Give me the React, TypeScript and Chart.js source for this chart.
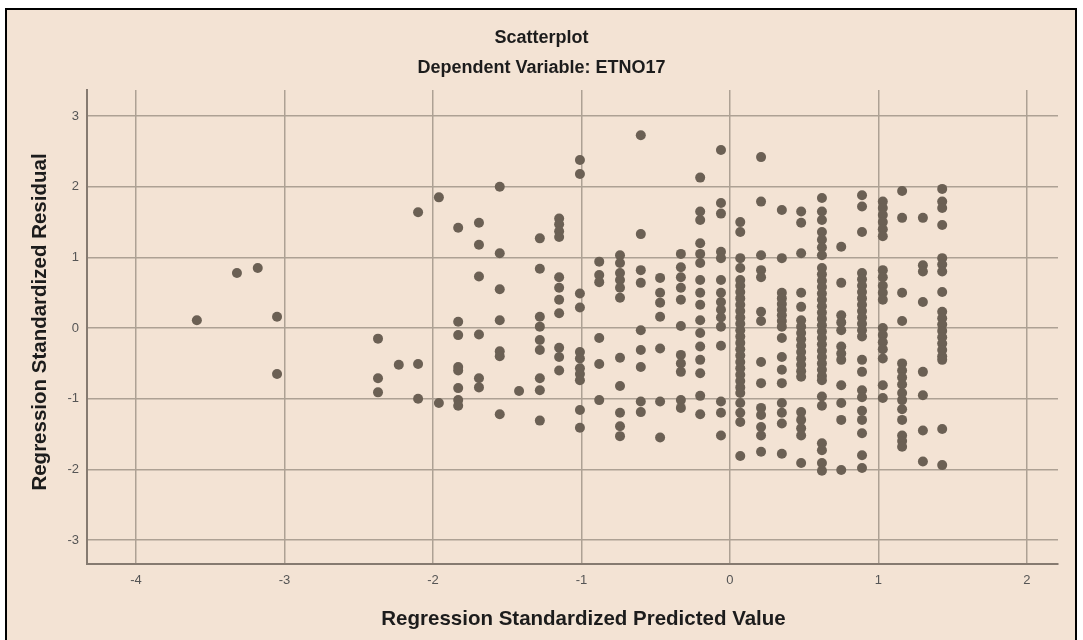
import React, { useEffect, useRef } from 'react';
import { Chart, registerables } from 'chart.js';

Chart.register(...registerables);

const TITLE = 'Scatterplot';
const SUBTITLE = 'Dependent Variable: ETNO17';
const X_LABEL = 'Regression Standardized Predicted Value';
const Y_LABEL = 'Regression Standardized Residual';

const X_TICKS = [-4, -3, -2, -1, 0, 1, 2];
const Y_TICKS = [-3, -2, -1, 0, 1, 2, 3];

// distinct predicted values (columns of points)
const PREDICTED = [
  -3.59, -3.32, -3.18, -3.05, -2.37, -2.23, -2.10, -1.96, -1.83, -1.69,
  -1.55, -1.42, -1.28, -1.15, -1.01, -0.88, -0.74, -0.60, -0.47, -0.33,
  -0.20, -0.06, 0.07, 0.21, 0.35, 0.48, 0.62, 0.75, 0.89, 1.03,
  1.16, 1.30, 1.43,
];

// standardized residuals for each predicted value above
const RESIDUALS = [
  [0.11],
  [0.78],
  [0.85],
  [0.16, -0.65],
  [-0.15, -0.71, -0.91],
  [-0.52],
  [1.64, -0.51, -1.0],
  [1.85, -1.06],
  [1.42, 0.09, -0.1, -0.55, -0.6, -0.85, -1.02, -1.1],
  [1.49, 1.18, 0.73, -0.09, -0.71, -0.84],
  [2.0, 1.06, 0.55, 0.11, -0.33, -0.4, -1.22],
  [-0.89],
  [1.27, 0.84, 0.16, 0.02, -0.17, -0.31, -0.71, -0.88, -1.31],
  [1.55, 1.47, 1.37, 1.29, 0.72, 0.57, 0.4, 0.21, -0.28, -0.41, -0.6],
  [2.38, 2.18, 0.49, 0.29, -0.34, -0.43, -0.57, -0.65, -0.74, -1.16, -1.41],
  [0.94, 0.75, 0.65, -0.14, -0.51, -1.02],
  [1.03, 0.92, 0.78, 0.68, 0.57, 0.43, -0.42, -0.82, -1.2, -1.39, -1.53],
  [2.73, 1.33, 0.82, 0.64, -0.03, -0.31, -0.55, -1.04, -1.19],
  [0.71, 0.5, 0.36, 0.16, -0.29, -1.04, -1.55],
  [1.05, 0.86, 0.72, 0.57, 0.4, 0.03, -0.38, -0.5, -0.62, -1.02, -1.13],
  [2.13, 1.65, 1.53, 1.2, 1.05, 0.92, 0.68, 0.5, 0.33, 0.11, -0.07, -0.26, -0.45, -0.64, -0.96, -1.22],
  [2.52, 1.77, 1.62, 1.08, 0.99, 0.68, 0.5, 0.37, 0.26, 0.15, 0.02, -0.25, -1.04, -1.2, -1.52],
  [1.5, 1.36, 0.99, 0.85, 0.68, 0.6, 0.51, 0.42, 0.33, 0.24, 0.15, 0.06, -0.03, -0.12, -0.21, -0.3, -0.39, -0.48, -0.57, -0.66, -0.75, -0.84, -0.92, -1.06, -1.2, -1.33, -1.81],
  [2.42, 1.79, 1.03, 0.82, 0.72, 0.23, 0.1, -0.48, -0.78, -1.13, -1.23, -1.4, -1.52, -1.75],
  [1.67, 0.99, 0.5, 0.42, 0.34, 0.26, 0.18, 0.1, 0.02, -0.14, -0.41, -0.59, -0.78, -1.06, -1.2, -1.35, -1.78],
  [1.65, 1.49, 1.06, 0.5, 0.3, 0.11, 0.02, -0.07, -0.16, -0.25, -0.34, -0.43, -0.52, -0.61, -0.69, -1.19, -1.3, -1.42, -1.52, -1.91],
  [1.84, 1.65, 1.53, 1.36, 1.25, 1.14, 1.03, 0.85, 0.76, 0.67, 0.58, 0.49, 0.4, 0.31, 0.22, 0.13, 0.04, -0.05, -0.14, -0.23, -0.32, -0.41, -0.5, -0.59, -0.68, -0.74, -0.97, -1.1, -1.63, -1.73, -1.91, -2.02],
  [1.15, 0.64, 0.18, 0.08, -0.03, -0.26, -0.36, -0.45, -0.81, -1.06, -1.3, -2.01],
  [1.88, 1.72, 1.36, 0.78, 0.69, 0.6, 0.51, 0.42, 0.33, 0.24, 0.15, 0.06, -0.03, -0.12, -0.45, -0.62, -0.88, -0.98, -1.17, -1.3, -1.49, -1.8, -1.98],
  [1.79, 1.7, 1.6, 1.5, 1.4, 1.3, 0.82, 0.72, 0.6, 0.5, 0.4, 0.0, -0.1, -0.2, -0.3, -0.43, -0.81, -0.99],
  [1.94, 1.56, 0.5, 0.1, -0.5, -0.6, -0.7, -0.8, -0.92, -1.02, -1.15, -1.3, -1.52, -1.6, -1.68],
  [1.56, 0.89, 0.8, 0.37, -0.62, -0.95, -1.45, -1.89],
  [1.97, 1.79, 1.7, 1.46, 0.99, 0.9, 0.8, 0.51, 0.23, 0.14, 0.05, -0.04, -0.13, -0.22, -0.31, -0.4, -0.45, -1.43, -1.94],
];

const X_MIN = -4.33;
const X_MAX = 2.21;
const Y_MIN = -3.34;
const Y_MAX = 3.37;

const FONT = '"Liberation Sans", Arial, Helvetica, sans-serif';
const BG = '#f3e3d4';
const POINT_COLOR = '#6b6054';
const GRID_COLOR = '#ada194';
const AXIS_COLOR = '#857a70';
const TEXT_COLOR = '#1c1c1c';
const TICK_COLOR = '#555555';

export default function App() {
  const canvasRef = useRef<HTMLCanvasElement | null>(null);

  useEffect(() => {
    const canvas = canvasRef.current;
    if (!canvas) return;

    const points: { x: number; y: number }[] = [];
    PREDICTED.forEach((x, i) => {
      RESIDUALS[i].forEach((y) => points.push({ x, y }));
    });

    // SPSS-style titles: chart titles centred on the page, axis titles offset like the original
    const titlePlugin = {
      id: 'spssTitles',
      afterDraw(chart: any) {
        const ctx = chart.ctx;
        ctx.save();
        ctx.fillStyle = TEXT_COLOR;
        ctx.textAlign = 'center';
        ctx.textBaseline = 'middle';
        ctx.font = `bold 18px ${FONT}`;
        ctx.fillText(TITLE, 541.5, 38);
        ctx.fillText(SUBTITLE, 541.5, 68);
        ctx.font = `bold 20.5px ${FONT}`;
        ctx.fillText(X_LABEL, 583.5, 619);
        ctx.translate(40, 322);
        ctx.rotate(-Math.PI / 2);
        ctx.fillText(Y_LABEL, 0, 0);
        ctx.restore();
      },
    };

    const chart = new Chart(canvas, {
      type: 'scatter',
      data: {
        datasets: [
          {
            data: points,
            backgroundColor: POINT_COLOR,
            borderColor: POINT_COLOR,
            pointRadius: 5,
            pointBorderWidth: 0,
            pointHoverRadius: 5,
          },
        ],
      },
      options: {
        animation: false,
        responsive: false,
        maintainAspectRatio: false,
        events: [],
        layout: { padding: { top: 90, right: 25, bottom: 0, left: 0 } },
        plugins: {
          legend: { display: false },
          tooltip: { enabled: false },
        },
        scales: {
          x: {
            type: 'linear',
            min: X_MIN,
            max: X_MAX,
            afterBuildTicks: (s: any) => {
              s.ticks = X_TICKS.map((v) => ({ value: v }));
            },
            afterFit: (s: any) => {
              s.height = 76;
            },
            grid: { color: GRID_COLOR, lineWidth: 1.5, drawTicks: false },
            border: { color: AXIS_COLOR, width: 2 },
            ticks: {
              padding: 9,
              color: TICK_COLOR,
              font: { size: 13, family: FONT },
            },
            title: { display: false, text: X_LABEL },
          },
          y: {
            type: 'linear',
            min: Y_MIN,
            max: Y_MAX,
            afterBuildTicks: (s: any) => {
              s.ticks = Y_TICKS.map((v) => ({ value: v }));
            },
            afterFit: (s: any) => {
              s.width = 87;
            },
            grid: { color: GRID_COLOR, lineWidth: 1.5, drawTicks: false },
            border: { color: AXIS_COLOR, width: 2 },
            ticks: {
              padding: 8,
              color: TICK_COLOR,
              font: { size: 13, family: FONT },
            },
            title: { display: false, text: Y_LABEL },
          },
        },
      },
      plugins: [titlePlugin],
    });

    return () => chart.destroy();
  }, []);

  return (
    <div
      style={{
        position: 'fixed',
        left: 0,
        top: 0,
        width: 1083,
        height: 640,
        background: '#ffffff',
        overflow: 'hidden',
      }}
    >
      <div
        style={{
          position: 'absolute',
          left: 5,
          top: 8,
          width: 1072,
          height: 660,
          boxSizing: 'border-box',
          border: '2px solid #000',
          background: BG,
        }}
      />
      <canvas
        ref={canvasRef}
        width={1083}
        height={640}
        style={{ position: 'absolute', left: 0, top: 0, display: 'block' }}
      />
    </div>
  );
}
